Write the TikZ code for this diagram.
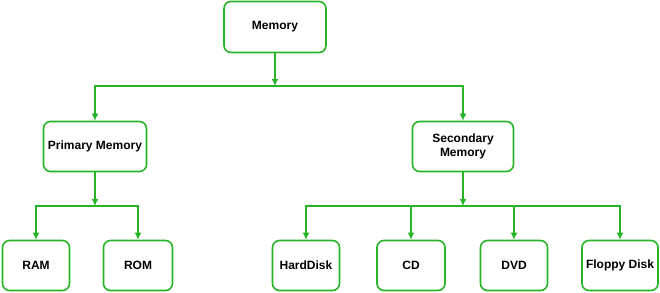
\documentclass[tikz,border=0pt]{standalone}
\usepackage{fontspec}
\setmainfont{Liberation Sans}
\usetikzlibrary{arrows.meta, positioning}
\definecolor{memgreen}{RGB}{40,180,40}

\begin{document}
\begin{tikzpicture}[
    x=1pt, y=-1pt,
    box/.style={draw=memgreen, line width=1.6pt, rounded corners=7pt, align=center, minimum height=50pt, inner xsep=4pt, font=\fontsize{12}{13.5}\selectfont\bfseries},
    leaf/.style={box, minimum width=67pt},
    arrow/.style={-{Latex[length=7pt, width=7pt]}, draw=memgreen, line width=1.6pt}
]
\useasboundingbox (0,0) rectangle (660,292);
\node[box, minimum width=102pt, minimum height=51pt] (mem) at (275,27) {Memory};
\node[box, minimum width=103pt] (prim) at (95,146.5) {Primary Memory};
\node[box, minimum width=101pt] (sec) at (463,146.5) {Secondary\\Memory};
\node[leaf] (ram) at (36,265.5) {RAM};
\node[leaf, minimum width=69pt] (rom) at (138,265.5) {ROM};
\node[leaf] (hdd) at (306,265.5) {HardDisk};
\node[leaf, minimum width=68pt] (cd) at (411,265.5) {CD};
\node[leaf] (dvd) at (514,265.5) {DVD};
\node[leaf] (floppy) at (620,265.5) {Floppy Disk};

\coordinate (split0) at (mem.south |- 0,86);
\coordinate (split1) at (prim.south |- 0,206);
\coordinate (split2) at (sec.south |- 0,206);

\draw[arrow] (mem) -- (split0);
\draw[arrow] (split0) -| (prim);
\draw[arrow] (split0) -| (sec);
\draw[arrow] (prim) -- (split1);
\draw[arrow] (split1) -| (ram);
\draw[arrow] (split1) -| (rom);
\draw[arrow] (sec) -- (split2);
\draw[arrow] (split2) -| (hdd);
\draw[arrow] (split2) -| (cd);
\draw[arrow] (split2) -| (dvd);
\draw[arrow] (split2) -| (floppy);
\end{tikzpicture}
\end{document}
